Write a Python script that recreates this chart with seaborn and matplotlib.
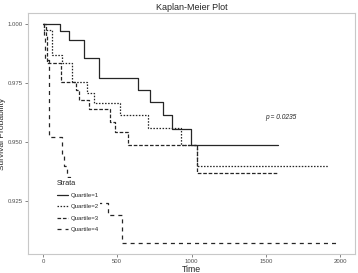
import matplotlib
matplotlib.use("Agg")
import matplotlib.pyplot as plt
import seaborn as sns
import pandas as pd

# ---- data ----
q1_time = [0, 114, 177, 278, 379, 641, 720, 810, 866, 996, 1582]
q1_surv = [1.0, 0.997, 0.9932, 0.9857, 0.977, 0.972, 0.9668, 0.9614, 0.9555, 0.9487, 0.9487]

q2_time = [0, 5, 58, 125, 193, 294, 345, 518, 709, 929, 1034, 1918]
q2_surv = [1.0, 0.9975, 0.9869, 0.9834, 0.9756, 0.9706, 0.9667, 0.9614, 0.9558, 0.9487, 0.940, 0.940]

q3_time = [0, 20, 30, 121, 222, 244, 312, 451, 485, 570, 1036, 1582]
q3_surv = [1.0, 0.995, 0.9834, 0.9756, 0.972, 0.9678, 0.9639, 0.9586, 0.9544, 0.9487, 0.937, 0.937]

q4_time = [0, 5, 15, 40, 125, 145, 165, 180, 440, 534, 1985]
q4_surv = [1.0, 0.995, 0.985, 0.952, 0.944, 0.940, 0.935, 0.924, 0.919, 0.907, 0.907]

strata = ["Quartile=1", "Quartile=2", "Quartile=3", "Quartile=4"]
x_ticks = [0, 500, 1000, 1500, 2000]
y_ticks = [0.925, 0.950, 0.975, 1.000]
p_text = "p = 0.0235"

series = [(q1_time, q1_surv), (q2_time, q2_surv), (q3_time, q3_surv), (q4_time, q4_surv)]
frames = []
for name, (t, s) in zip(strata, series):
    frames.append(pd.DataFrame({"Time": t, "Survival": s, "Strata": name}))
df = pd.concat(frames, ignore_index=True)

sns.set_theme(style="white")
plt.rcParams["font.family"] = ["Liberation Sans", "DejaVu Sans"]
plt.rcParams["lines.scale_dashes"] = False

fig = plt.figure(figsize=(3.58, 2.73), dpi=100)
ax = fig.add_axes([0.078, 0.0696, 0.914, 0.8824])

styles = {
    "Quartile=1": "-",
    "Quartile=2": (0, (1.1, 1.1)),
    "Quartile=3": (0, (2.6, 1.3)),
    "Quartile=4": (0, (2.9, 2.9)),
}
color = "#262626"
for name in strata:
    sub = df[df["Strata"] == name]
    sns.lineplot(data=sub, x="Time", y="Survival", ax=ax, estimator=None,
                 drawstyle="steps-post", color=color, linewidth=0.9,
                 linestyle=styles[name], label=name)

ax.set_xlim(-101, 2100)
ax.set_ylim(0.9025, 1.0047)
ax.set_xticks(x_ticks)
ax.set_xticklabels([str(v) for v in x_ticks])
ax.set_yticks(y_ticks)
ax.set_yticklabels([f"{v:.3f}" for v in y_ticks])
ax.tick_params(axis="both", labelsize=4.3, labelcolor="#4d4d4d", length=2,
               width=0.5, color="#555555", pad=1.5, bottom=True, left=True)

for sp in ax.spines.values():
    sp.set_color("#c8c8c8")
    sp.set_linewidth(0.8)

ax.set_xlabel("Time", fontsize=6.3, labelpad=1)
ax.set_ylabel("Survival Probability", fontsize=6.0)
ax.yaxis.set_label_coords(-0.066, 0.5)
ax.set_title("Kaplan-Meier Plot", fontsize=6.5, pad=2.5)

ax.text(1600, 0.9602, p_text, fontsize=4.8, style="italic", ha="center", va="center")

leg = ax.legend(title="Strata", loc="lower left", bbox_to_anchor=(0.073, 0.07),
                fontsize=4.3, title_fontsize=5.2, frameon=True, facecolor="white",
                edgecolor="white", framealpha=1, handlelength=1.9, handletextpad=0.4,
                labelspacing=1.05, borderpad=0.3, alignment="left")
leg.get_frame().set_linewidth(0)

fig.savefig("out.png", dpi=100)
